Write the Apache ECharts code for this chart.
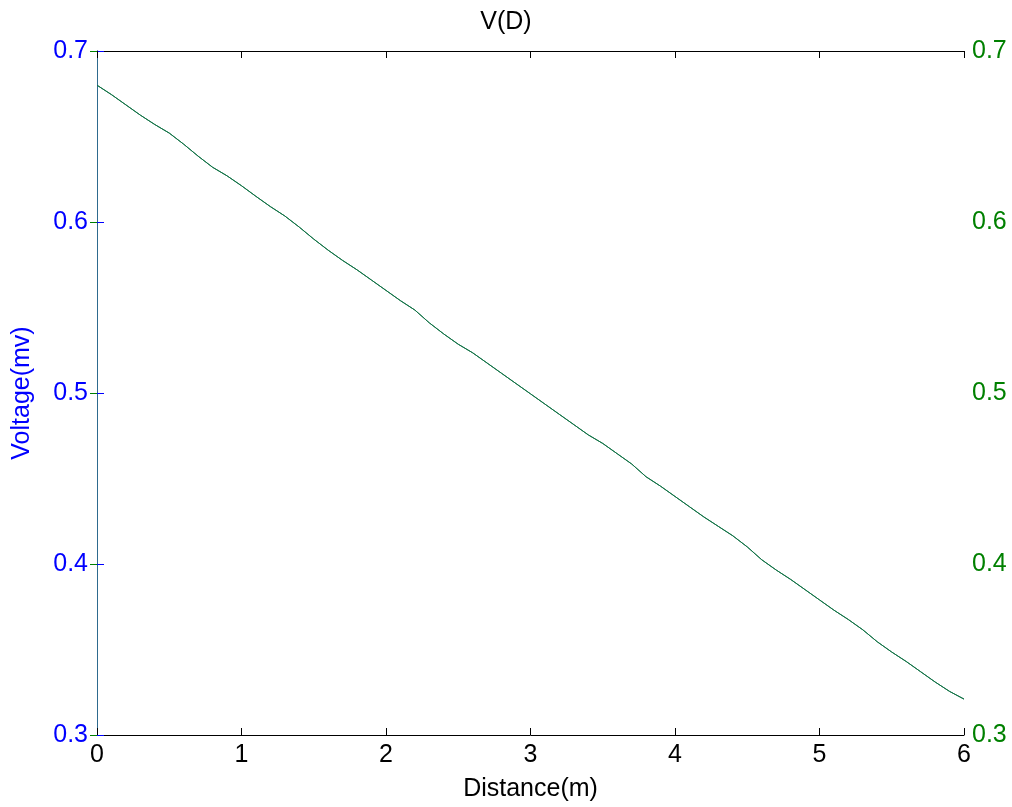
<!DOCTYPE html>
<html>
<head>
<meta charset="utf-8">
<script src="https://cdn.jsdelivr.net/npm/echarts@6/dist/echarts.min.js"></script>
<style>html,body{margin:0;padding:0;background:#fff}#c{width:1012px;height:807px}</style>
</head>
<body>
<div id="c"></div>
<script>
const distance = [0.0,0.1,0.2,0.3,0.4,0.5,0.6,0.7,0.8,0.9,1.0,1.1,1.2,1.3,1.4,1.5,1.6,1.7,1.8,1.9,2.0,2.1,2.2,2.3,2.4,2.5,2.6,2.7,2.8,2.9,3.0,3.1,3.2,3.3,3.4,3.5,3.6,3.7,3.8,3.9,4.0,4.1,4.2,4.3,4.4,4.5,4.6,4.7,4.8,4.9,5.0,5.1,5.2,5.3,5.4,5.5,5.6,5.7,5.8,5.9,6.0];
const voltage = [0.680,0.6745,0.6685,0.6625,0.657,0.652,0.6455,0.6385,0.632,0.627,0.6212,0.615,0.609,0.6035,0.597,0.590,0.5835,0.5775,0.572,0.566,0.560,0.554,0.5485,0.541,0.5345,0.5285,0.5235,0.5175,0.5115,0.5055,0.4995,0.4935,0.4875,0.4815,0.4755,0.4705,0.4645,0.4585,0.451,0.4455,0.4395,0.4335,0.4275,0.422,0.4165,0.410,0.4025,0.3965,0.391,0.385,0.379,0.373,0.3675,0.3615,0.3545,0.3485,0.343,0.337,0.331,0.3255,0.321];
const xTicks = [0,1,2,3,4,5,6];
const yTicks = [0.3,0.4,0.5,0.6,0.7];
const titleText = 'V(D)';
const xName = 'Distance(m)';
const yName = 'Voltage(mv)';

const pts = distance.map((d,i)=>[d, voltage[i]]);
const font = 'Liberation Sans, Arial, Helvetica, sans-serif';
const fs = 25;
const chart = echarts.init(document.getElementById('c'));
chart.setOption({
  animation:false,
  title:{text:titleText,left:'center',top:5,textStyle:{fontFamily:font,fontSize:fs,fontWeight:'normal',color:'#000'}},
  grid:{left:97,right:48,top:51,bottom:72,containLabel:false,show:false},
  xAxis:[{
    type:'value',min:xTicks[0],max:xTicks[xTicks.length-1],interval:1,position:'bottom',
    name:xName,nameLocation:'middle',nameGap:42,
    nameTextStyle:{fontFamily:font,fontSize:fs,color:'#000'},
    axisLine:{show:true,lineStyle:{color:'#000',width:1}},
    axisTick:{show:true,inside:true,length:7,lineStyle:{color:'#000'}},
    axisLabel:{fontFamily:font,fontSize:fs,color:'#000',margin:8},
    splitLine:{show:false}
  },{
    type:'value',min:xTicks[0],max:xTicks[xTicks.length-1],interval:1,position:'top',
    axisLine:{show:true,lineStyle:{color:'#000',width:1}},
    axisTick:{show:true,inside:true,length:7,lineStyle:{color:'#000'}},
    axisLabel:{show:false},splitLine:{show:false}
  }],
  yAxis:[{
    type:'value',min:yTicks[0],max:yTicks[yTicks.length-1],interval:0.1,position:'left',
    name:yName,nameLocation:'middle',nameGap:62,
    nameTextStyle:{fontFamily:font,fontSize:fs,color:'#0000ff'},
    axisLine:{show:true,lineStyle:{color:'#0000ff',width:1}},
    axisTick:{show:true,inside:true,length:7,lineStyle:{color:'#0000ff'}},
    axisLabel:{fontFamily:font,fontSize:fs,color:'#0000ff',margin:9,formatter:v=>v.toFixed(1)},
    splitLine:{show:false}
  },{
    type:'value',min:yTicks[0],max:yTicks[yTicks.length-1],interval:0.1,position:'right',
    axisLine:{show:true,lineStyle:{color:'#2e6a8e',width:1}},
    axisTick:{show:true,inside:true,length:7,lineStyle:{color:'#008000'}},
    axisLabel:{fontFamily:font,fontSize:fs,color:'#008000',margin:8,formatter:v=>v.toFixed(1)},
    splitLine:{show:false}
  }],
  series:[{
    type:'line',xAxisIndex:0,yAxisIndex:0,data:pts,showSymbol:false,
    lineStyle:{color:'#127246',width:1},silent:true
  },{
    type:'line',xAxisIndex:0,yAxisIndex:1,data:pts,showSymbol:false,
    lineStyle:{color:'#127246',width:1},silent:true
  }]
});
</script>
</body>
</html>
